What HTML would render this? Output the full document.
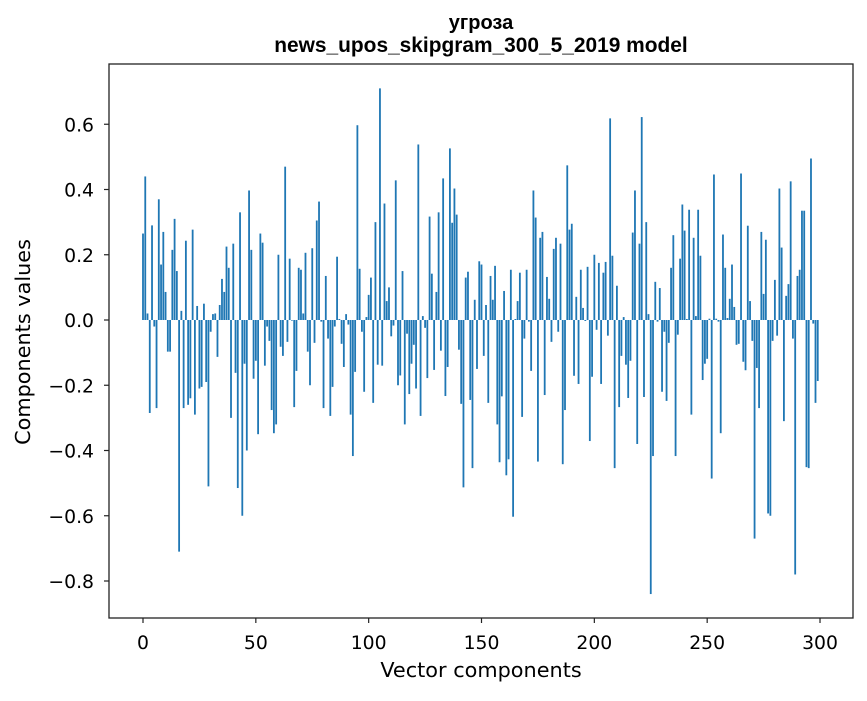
<!DOCTYPE html>
<html><head><meta charset="utf-8"><style>
body{margin:0;background:#fff}
svg text{font-family:"DejaVu Sans","Liberation Sans",sans-serif;fill:#000}
</style></head><body>
<svg id="chart" width="867" height="696" xmlns="http://www.w3.org/2000/svg">
<rect width="867" height="696" fill="#fff"/>
<text x="481" y="29" text-anchor="middle" style="font-family:'Liberation Sans',sans-serif;font-weight:bold;font-size:20px">угроза</text>
<text x="481" y="52" text-anchor="middle" style="font-family:'Liberation Sans',sans-serif;font-weight:bold;font-size:20.9px">news_upos_skipgram_300_5_2019 model</text>
<g id="bars"></g>
<g id="axes"></g>
<text x="481" y="677" text-anchor="middle" font-size="20.8">Vector components</text>
<text transform="translate(30,342) rotate(-90)" text-anchor="middle" font-size="20.8">Components values</text>
</svg>
<script>
const values = [
0.265,0.44,0.02,-0.285,0.29,-0.02,-0.27,0.37,0.17,0.27,
0.086,-0.097,-0.097,0.215,0.31,0.15,-0.71,0.028,-0.27,0.243,
-0.26,-0.24,0.277,-0.29,0.043,-0.21,-0.205,0.05,-0.19,-0.51,
-0.036,0.018,0.02,-0.113,0.046,0.126,0.086,0.225,0.16,-0.30,
0.234,-0.162,-0.515,0.33,-0.60,-0.134,-0.40,0.397,0.215,-0.18,
-0.125,-0.35,0.265,0.237,-0.14,-0.02,-0.064,-0.276,-0.347,-0.32,
0.2,-0.082,-0.11,0.47,-0.067,0.188,-0.002,-0.267,-0.156,0.16,
0.154,0.02,0.206,-0.097,-0.2,0.22,-0.07,0.305,0.363,-0.005,
-0.27,0.135,-0.057,-0.294,-0.205,-0.02,0.194,0.003,-0.073,-0.144,
0.018,-0.014,-0.29,-0.417,-0.159,0.597,0.157,-0.036,-0.22,0.009,
0.077,0.13,-0.254,0.30,-0.137,0.71,-0.14,0.357,0.058,0.10,
-0.05,-0.017,0.428,-0.2,-0.17,0.15,-0.32,-0.042,-0.227,-0.134,
-0.076,-0.21,0.538,-0.294,0.012,-0.024,-0.178,0.317,0.142,-0.153,
0.086,0.33,-0.094,0.434,-0.233,-0.144,0.526,0.298,0.403,0.323,
-0.091,-0.257,-0.513,0.13,0.148,-0.245,-0.454,0.062,-0.15,0.18,
0.17,-0.11,0.046,-0.254,0.135,0.062,0.166,-0.32,-0.436,-0.234,
0.089,-0.476,-0.427,0.154,-0.603,0.003,0.058,0.145,-0.297,-0.057,
0.154,-0.005,-0.156,0.397,0.314,-0.434,0.252,0.27,-0.23,0.132,
0.065,-0.067,0.218,0.252,-0.036,0.234,-0.442,-0.276,0.474,0.277,
0.295,-0.171,0.071,-0.196,0.154,0.037,-0.003,0.163,-0.371,-0.174,
0.2,-0.03,0.175,-0.196,0.145,0.178,-0.048,0.618,0.197,-0.454,
0.105,-0.267,-0.11,0.009,-0.137,-0.239,-0.125,0.268,0.397,-0.38,
0.234,0.622,-0.236,0.30,0.018,-0.84,-0.417,0.117,-0.005,0.098,
-0.22,-0.036,-0.248,-0.07,0.16,0.26,-0.417,-0.045,0.188,0.354,
0.274,0.003,0.338,-0.29,0.252,0.012,0.338,0.197,-0.184,-0.134,
-0.119,0.004,-0.486,0.446,0.004,-0.005,-0.347,0.262,0.16,0.006,
0.065,0.17,0.04,-0.076,-0.073,0.449,-0.128,-0.154,0.289,0.058,
-0.064,-0.67,-0.147,-0.27,0.27,0.08,0.246,-0.593,-0.6,-0.064,
0.123,-0.048,0.403,0.222,-0.31,0.074,0.11,0.425,-0.057,-0.78,
0.135,0.154,0.335,0.335,-0.451,-0.454,0.495,-0.011,-0.254,-0.187
];
const xTicks = [0,50,100,150,200,250,300];
const yTicks = [-0.8,-0.6,-0.4,-0.2,0.0,0.2,0.4,0.6];
const NS = "http://www.w3.org/2000/svg";
const L=109,R=853,T=64,B=618;
function xs(v){return 143 + v*2.2567;}
function ys(v){return 320 - v*326.25;}
const bars=document.getElementById('bars');
values.forEach((v,i)=>{
  const r=document.createElementNS(NS,'rect');
  const y0=ys(Math.max(v,0)), y1=ys(Math.min(v,0));
  r.setAttribute('x',xs(i-0.4));
  r.setAttribute('width',xs(0.8)-xs(0));
  r.setAttribute('y',y0);
  r.setAttribute('height',Math.max(y1-y0,0.01));
  r.setAttribute('fill','#1f77b4');
  
  
  bars.appendChild(r);
});
const ax=document.getElementById('axes');
const frame=document.createElementNS(NS,'rect');
frame.setAttribute('x',L);frame.setAttribute('y',T);
frame.setAttribute('width',R-L);frame.setAttribute('height',B-T);
frame.setAttribute('fill','none');frame.setAttribute('stroke','#222');frame.setAttribute('stroke-width','1.3');


ax.appendChild(frame);
xTicks.forEach(t=>{
  const l=document.createElementNS(NS,'line');
  l.setAttribute('x1',xs(t));l.setAttribute('x2',xs(t));l.setAttribute('y1',B);l.setAttribute('y2',B+5);
  l.setAttribute('stroke','#222');l.setAttribute('stroke-width','1.2');
  
  
  ax.appendChild(l);
  const tx=document.createElementNS(NS,'text');
  tx.setAttribute('x',xs(t));tx.setAttribute('y',B+31);tx.setAttribute('text-anchor','middle');tx.setAttribute('font-size','18.8');
  tx.textContent=String(t);
  
  
  ax.appendChild(tx);
});
yTicks.forEach(t=>{
  const l=document.createElementNS(NS,'line');
  l.setAttribute('x1',L-5);l.setAttribute('x2',L);l.setAttribute('y1',ys(t));l.setAttribute('y2',ys(t));
  l.setAttribute('stroke','#222');l.setAttribute('stroke-width','1.2');
  
  
  ax.appendChild(l);
  const tx=document.createElementNS(NS,'text');
  tx.setAttribute('x',L-15);tx.setAttribute('y',ys(t)+7);tx.setAttribute('text-anchor','end');tx.setAttribute('font-size','18.8');
  tx.textContent=(t<0?'\u2212':'')+Math.abs(t).toFixed(1);
  
  
  ax.appendChild(tx);
});
</script>
</body></html>
